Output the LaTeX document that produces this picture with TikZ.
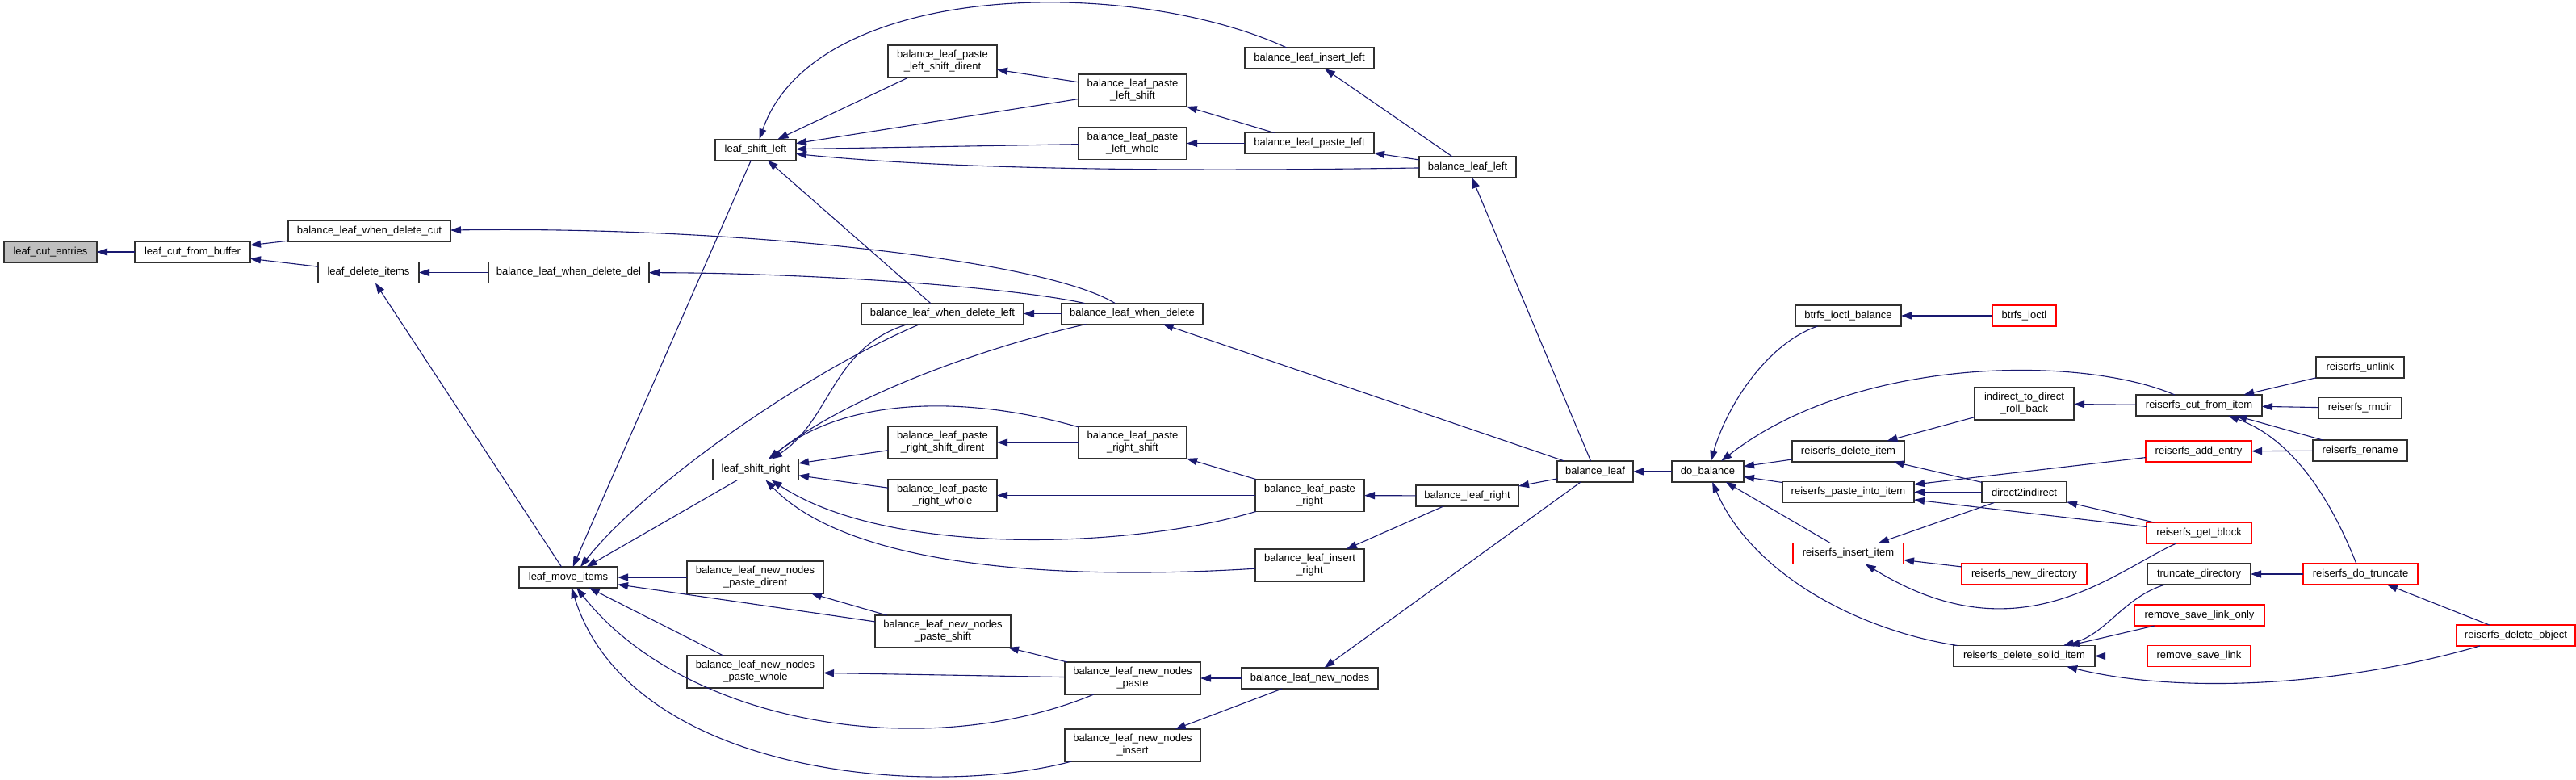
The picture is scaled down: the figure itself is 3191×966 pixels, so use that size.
\documentclass[tikz,border=0pt]{standalone}
\usepackage{fontspec}
\setmainfont{Liberation Sans}
\usetikzlibrary{arrows.meta}
\definecolor{edgeblue}{HTML}{191970}
\definecolor{grayfill}{HTML}{BFBFBF}
\definecolor{redborder}{HTML}{FF0000}
\definecolor{boxline}{HTML}{303030}
\begin{document}
\begin{tikzpicture}[x=1pt,y=-1pt,
  fn/.style={draw=boxline, line width=1.25pt, fill=white, inner sep=0pt, outer sep=0pt,
    font=\fontsize{13}{15}\selectfont, align=center, minimum height=26pt},
  fn2/.style={fn, minimum height=40pt},
  hl/.style={fill=grayfill},
  rd/.style={draw=redborder},
  e/.style={draw=edgeblue, line width=1.1pt, -{Triangle[length=13pt,width=9pt]}}]
\useasboundingbox (0,0) rectangle (3191,966);
% nodes
\node[fn,hl,minimum width=115pt] (lce) at (62.5,312) {leaf\_cut\_entries};
\node[fn,minimum width=143pt] (lcfb) at (238.5,312) {leaf\_cut\_from\_buffer};
\node[fn,minimum width=201pt] (bldc) at (457.5,286.5) {balance\_leaf\_when\_delete\_cut};
\node[fn,minimum width=125pt] (ldi) at (456.5,337.5) {leaf\_delete\_items};
\node[fn,minimum width=199pt] (bldd) at (704.5,337.5) {balance\_leaf\_when\_delete\_del};
\node[fn,minimum width=100pt] (lsl) at (936,185.5) {leaf\_shift\_left};
\node[fn2,minimum width=135pt] (blplsd) at (1167.5,76) {balance\_leaf\_paste\\\_left\_shift\_dirent};
\node[fn2,minimum width=134pt] (blpls) at (1403,112) {balance\_leaf\_paste\\\_left\_shift};
\node[fn2,minimum width=134pt] (blplw) at (1403,177.5) {balance\_leaf\_paste\\\_left\_whole};
\node[fn,minimum width=160pt] (bil) at (1622,72) {balance\_leaf\_insert\_left};
\node[fn,minimum width=160pt] (bpl) at (1622,177.5) {balance\_leaf\_paste\_left};
\node[fn,minimum width=120pt] (bll) at (1818,207) {balance\_leaf\_left};
\node[fn,minimum width=201pt] (bldl) at (1167.5,388.5) {balance\_leaf\_when\_delete\_left};
\node[fn,minimum width=175pt] (bld) at (1402.5,388.5) {balance\_leaf\_when\_delete};
\node[fn,minimum width=131pt] (btib) at (2289.5,391) {btrfs\_ioctl\_balance};
\node[fn,rd,minimum width=79pt] (bti) at (2507.5,391) {btrfs\_ioctl};
\node[fn,minimum width=109pt] (unlink) at (2923.5,455) {reiserfs\_unlink};
\node[fn,minimum width=122pt] (lmi) at (704,715) {leaf\_move\_items};
\node[fn,minimum width=106pt] (lsr) at (936,581.5) {leaf\_shift\_right};
\node[fn2,minimum width=135pt] (blprsd) at (1167.5,548) {balance\_leaf\_paste\\\_right\_shift\_dirent};
\node[fn2,minimum width=134pt] (blprs) at (1403,548) {balance\_leaf\_paste\\\_right\_shift};
\node[fn2,minimum width=135pt] (blprw) at (1167.5,613.5) {balance\_leaf\_paste\\\_right\_whole};
\node[fn2,minimum width=135pt] (blpr) at (1622.5,613.5) {balance\_leaf\_paste\\\_right};
\node[fn2,minimum width=135pt] (blir) at (1622.5,700) {balance\_leaf\_insert\\\_right};
\node[fn2,minimum width=169pt] (blnnpd) at (935.5,715) {balance\_leaf\_new\_nodes\\\_paste\_dirent};
\node[fn2,minimum width=168pt] (blnnps) at (1168,782) {balance\_leaf\_new\_nodes\\\_paste\_shift};
\node[fn2,minimum width=169pt] (blnnpw) at (935.5,832) {balance\_leaf\_new\_nodes\\\_paste\_whole};
\node[fn2,minimum width=168pt] (blnnp) at (1403,840) {balance\_leaf\_new\_nodes\\\_paste};
\node[fn2,minimum width=168pt] (blnni) at (1403,923) {balance\_leaf\_new\_nodes\\\_insert};
\node[fn,minimum width=169pt] (blnn) at (1622.5,840) {balance\_leaf\_new\_nodes};
\node[fn,minimum width=127pt] (blr) at (1817.5,614) {balance\_leaf\_right};
\node[fn,minimum width=94pt] (bl) at (1976,584) {balance\_leaf};
\node[fn,minimum width=89pt] (db) at (2115.5,584) {do\_balance};
\node[fn,minimum width=139pt] (rdi) at (2289.5,559) {reiserfs\_delete\_item};
\node[fn,minimum width=163pt] (rpii) at (2289.5,609.5) {reiserfs\_paste\_into\_item};
\node[fn,rd,minimum width=137pt] (rii) at (2289.5,685.5) {reiserfs\_insert\_item};
\node[fn2,minimum width=123pt] (i2d) at (2507.5,500) {indirect\_to\_direct\\\_roll\_back};
\node[fn,minimum width=156pt] (rcfi) at (2724,502) {reiserfs\_cut\_from\_item};
\node[fn,minimum width=103pt] (rmdir) at (2923.5,505.5) {reiserfs\_rmdir};
\node[fn,minimum width=117pt] (rename) at (2923.5,558) {reiserfs\_rename};
\node[fn,rd,minimum width=131pt] (rae) at (2723.5,559) {reiserfs\_add\_entry};
\node[fn,minimum width=105pt] (d2i) at (2507.5,609.5) {direct2indirect};
\node[fn,rd,minimum width=130pt] (rgb) at (2724,660) {reiserfs\_get\_block};
\node[fn,rd,minimum width=155pt] (rnd) at (2507.5,711) {reiserfs\_new\_directory};
\node[fn,minimum width=128pt] (td) at (2724,711) {truncate\_directory};
\node[fn,rd,minimum width=142pt] (rdt) at (2924,711) {reiserfs\_do\_truncate};
\node[fn,rd,minimum width=161pt] (rslo) at (2724.5,762) {remove\_save\_link\_only};
\node[fn,rd,minimum width=147pt] (rdo) at (3116.5,787) {reiserfs\_delete\_object};
\node[fn,minimum width=175pt] (rdsi) at (2507.5,812.5) {reiserfs\_delete\_solid\_item};
\node[fn,rd,minimum width=128pt] (rsl) at (2724,812.5) {remove\_save\_link};
% straight edges (caller -> callee)
\draw[e] (lcfb) -- (lce);
\draw[e] (bldc) -- (lcfb);
\draw[e] (ldi) -- (lcfb);
\draw[e] (bldd) -- (ldi);
\draw[e] (lmi) -- (ldi);
\draw[e] (bld) -- (bldl);
\draw[e] (blplsd) -- (lsl);
\draw[e] (blpls) -- (lsl);
\draw[e] (blpls) -- (blplsd);
\draw[e] (blplw) -- (lsl);
\draw[e] (bpl) -- (blpls);
\draw[e] (bpl) -- (blplw);
\draw[e] (bll) -- (bpl);
\draw[e] (bll) -- (bil);
\draw[e] (bl) -- (bll);
\draw[e] (bl) -- (bld);
\draw[e] (bl) -- (blr);
\draw[e] (bl) -- (blnn);
\draw[e] (db) -- (bl);
\draw[e] (blr) -- (blpr);
\draw[e] (blr) -- (blir);
\draw[e] (blpr) -- (blprs);
\draw[e] (blpr) -- (blprw);
\draw[e] (blprs) -- (blprsd);
\draw[e] (blprsd) -- (lsr);
\draw[e] (blprw) -- (lsr);
\draw[e] (bldl) -- (lsl);
\draw[e] (lsl) -- (lmi);
\draw[e] (lsr) -- (lmi);
\draw[e] (blnnpd) -- (lmi);
\draw[e] (blnnps) -- (lmi);
\draw[e] (blnnpw) -- (lmi);
\draw[e] (blnnps) -- (blnnpd);
\draw[e] (blnnp) -- (blnnps);
\draw[e] (blnnp) -- (blnnpw);
\draw[e] (blnn) -- (blnnp);
\draw[e] (blnn) -- (blnni);
\draw[e] (bti) -- (btib);
\draw[e] (rdi) -- (db);
\draw[e] (rpii) -- (db);
\draw[e] (rii) -- (db);
\draw[e] (i2d) -- (rdi);
\draw[e] (d2i) -- (rdi);
\draw[e] (rae) -- (rpii);
\draw[e] (d2i) -- (rpii);
\draw[e] (rgb) -- (rpii);
\draw[e] (d2i) -- (rii);
\draw[e] (rnd) -- (rii);
\draw[e] (rgb) -- (d2i);
\draw[e] (rcfi) -- (i2d);
\draw[e] (rmdir) -- (rcfi);
\draw[e] (unlink) -- (rcfi);
\draw[e] (rename) -- (rcfi);
\draw[e] (rename) -- (rae);
\draw[e] (rdt) -- (td);
\draw[e] (rdo) -- (rdt);
\draw[e] (rslo) -- (rdsi);
\draw[e] (rsl) -- (rdsi);
% curved edges
\draw[e] ([xshift=-28pt]bldl.south) .. controls (1000,460) and (800,600) .. ([xshift=15pt]lmi.north);
\draw[e] (bld) .. controls (1290,320) and (900,280) .. (bldc);
\draw[e] (bld) .. controls (1250,355) and (1000,338) .. (bldd);
\draw[e] (bll) .. controls (1500,212) and (1200,212) .. (lsl);
\draw[e] (bil) .. controls (1400,-30) and (1010,-25) .. (lsl);
\draw[e] (blpr) .. controls (1400,680) and (1100,690) .. (lsr);
\draw[e] (blir) .. controls (1300,720) and (1050,700) .. (lsr);
\draw[e] (blprs) .. controls (1200,490) and (1050,490) .. (lsr);
\draw[e] (bldl) .. controls (1030,430) and (1030,520) .. (lsr);
\draw[e] (bld) .. controls (1220,430) and (1050,490) .. (lsr);
\draw[e] (blnnp) .. controls (1150,945) and (850,900) .. (lmi);
\draw[e] (blnni) .. controls (1150,990) and (780,960) .. (lmi);
\draw[e] (btib) .. controls (2190,425) and (2140,500) .. (db);
\draw[e] (rcfi) .. controls (2580,440) and (2300,440) .. (db);
\draw[e] (rdsi) .. controls (2300,780) and (2170,710) .. (db);
\draw[e] (rgb) .. controls (2615,710) and (2500,815) .. (rii);
\draw[e] (td) .. controls (2630,740) and (2610,785) .. (rdsi);
\draw[e] (rdt) .. controls (2880,600) and (2830,540) .. (rcfi);
\draw[e] (rdo) .. controls (2900,850) and (2700,860) .. (rdsi);
\end{tikzpicture}
\end{document}
